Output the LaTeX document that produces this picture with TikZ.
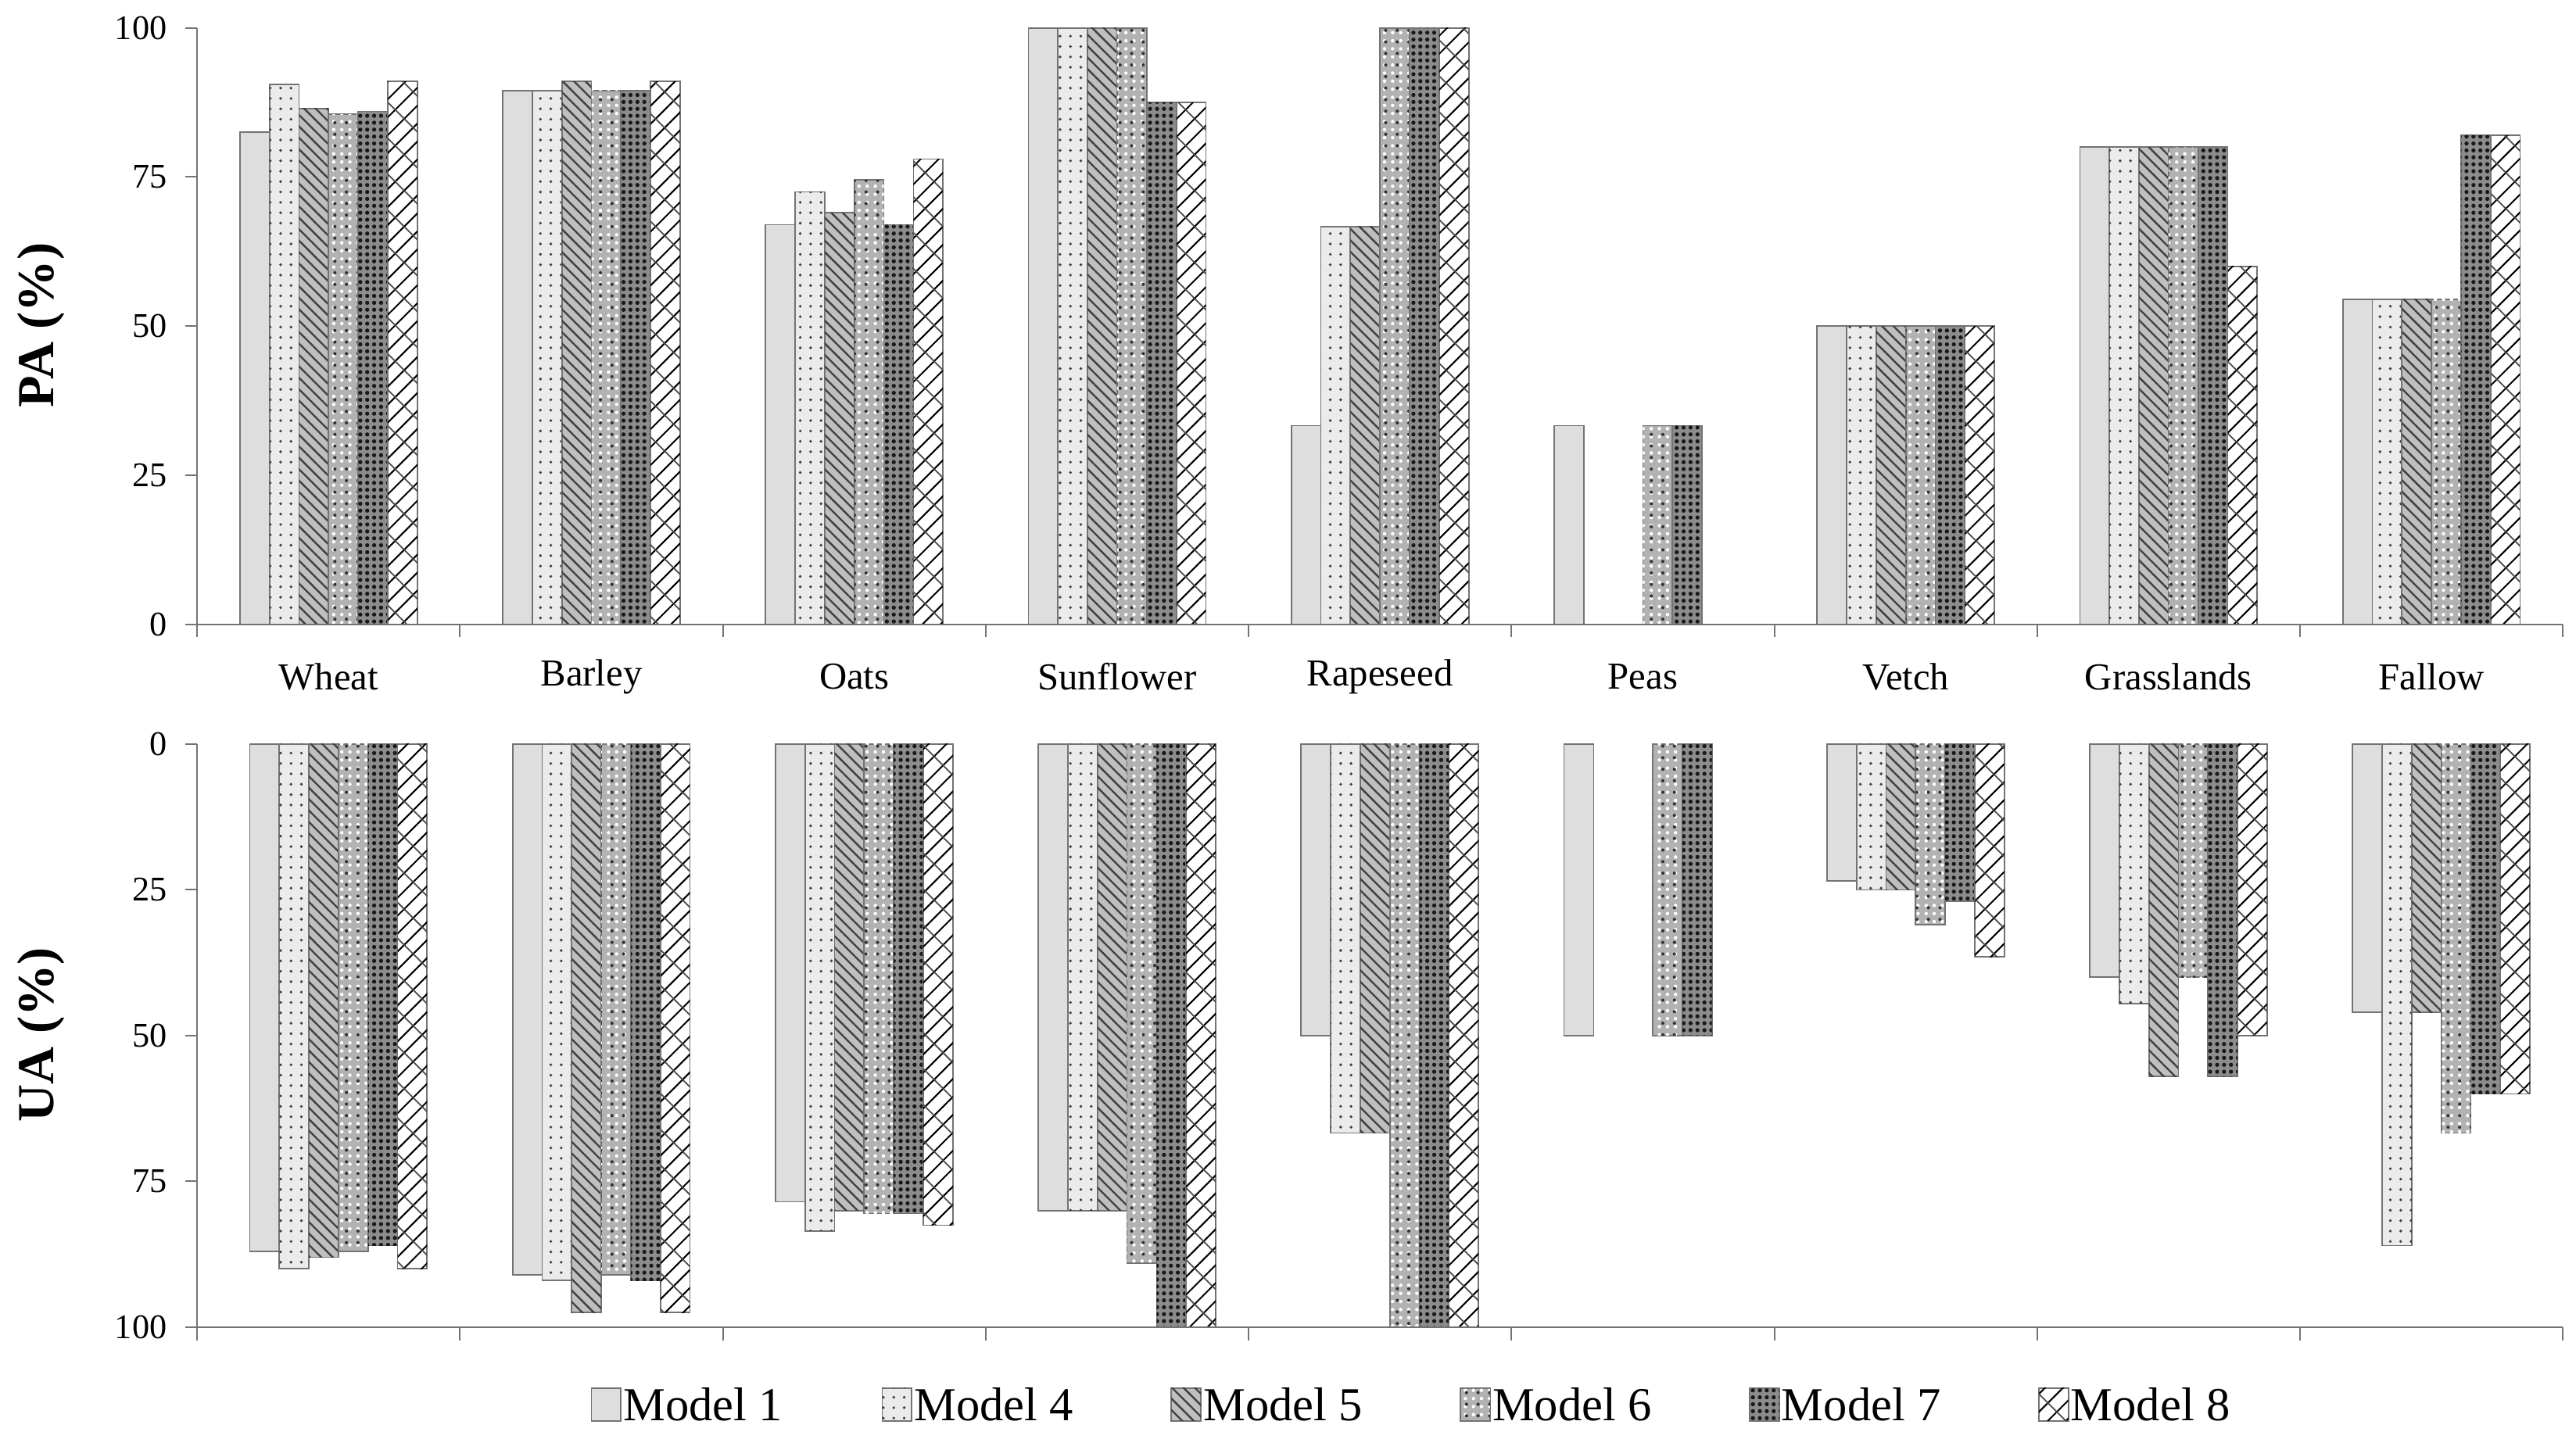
\documentclass[tikz,border=0pt]{standalone}
\usepackage{fontspec}
\setmainfont{Liberation Serif}
\usetikzlibrary{patterns.meta}
\tikzset{
 barbase/.style={draw=black!55,line width=1.2pt},
 b0/.style={barbase,fill=black!13},
 b1/.style={barbase,fill=black!8,postaction={pattern={Dots[distance=9pt,radius=1.3pt]},pattern color=black!75}},
 b2/.style={barbase,fill=black!25,postaction={pattern={Lines[angle=-45,distance=7pt,line width=1.6pt]},pattern color=black!75}},
 b3/.style={barbase,fill=black!30,postaction={pattern={Dots[distance=7pt,radius=1.5pt,xshift=2pt]},pattern color=white},postaction={pattern={Dots[distance=10pt,radius=1.4pt]},pattern color=black!80}},
 b4/.style={barbase,fill=black!45,postaction={pattern={Dots[distance=6pt,radius=1.8pt]},pattern color=black!90}},
 b5/.style={barbase,fill=white,postaction={pattern={Lines[angle=45,distance=11pt,line width=1.4pt]},pattern color=black},postaction={pattern={Lines[angle=-45,distance=22pt,line width=1.2pt]},pattern color=black!70}},
 axis/.style={draw=black!55,line width=1.4pt},
 tick/.style={font=\fontsize{30pt}{32pt}\selectfont,anchor=east},
 cat/.style={font=\fontsize{33pt}{36pt}\selectfont},
 leg/.style={font=\fontsize{41pt}{44pt}\selectfont,anchor=west}
}
\begin{document}
\begin{tikzpicture}[x=0.05cm,y=-0.05cm]
\useasboundingbox (0,0) rectangle (1568,876);
% top chart
\foreach \vals [count=\c from 0] in {{82.5,90.5,86.5,85.5,86,91},{89.5,89.5,91,89.5,89.5,91},{67,72.5,69,74.5,67,78},{100,100,100,100,87.5,87.5},{33.3,66.7,66.7,100,100,100},{33.3,0,0,33.3,33.3,0},{50,50,50,50,50,50},{80,80,80,80,80,60},{54.5,54.5,54.5,54.5,82,82}}{
 \foreach \v [count=\k from 0] in \vals {
  \ifdim \v pt>0pt
   \draw[b\k] ({146+160*\c+18*\k},380) rectangle ({164+160*\c+18*\k},{380-3.63*\v});
  \fi
 }
}
% bottom chart
\foreach \vals [count=\c from 0] in {{87,90,88,87,86,90},{91,92,97.5,91,92,97.5},{78.5,83.5,80,80.5,80.5,82.5},{80,80,80,89,100,100},{50,66.7,66.7,100,100,100},{50,0,0,50,50,0},{23.5,25,25,31,27,36.5},{40,44.5,57,40,57,50},{46,86,46,66.7,60,60}}{
 \foreach \v [count=\k from 0] in \vals {
  \ifdim \v pt>0pt
   \draw[b\k] ({152+160*\c+18*\k},453) rectangle ({170+160*\c+18*\k},{453+3.55*\v});
  \fi
 }
}
% axes
\draw[axis] (120,17) -- (120,380) -- (1560,380);
\draw[axis] (120,453) -- (120,808) -- (1560,808);
\foreach \i in {0,...,9}{
 \draw[axis] ({120+160*\i},380) -- ({120+160*\i},388);
 \draw[axis] ({120+160*\i},808) -- ({120+160*\i},816);
}
\foreach \t in {0,25,50,75,100}{
 \draw[axis] (113,{380-3.63*\t}) -- (120,{380-3.63*\t});
 \node[tick] (tp\t) at (104,{380-3.63*\t}) {\t};
 \draw[axis] (113,{453+3.55*\t}) -- (120,{453+3.55*\t});
 \node[tick] (bt\t) at (104,{453+3.55*\t}) {\t};
}
\foreach \n [count=\c from 0] in {Wheat,Barley,Oats,Sunflower,Rapeseed,Peas,Vetch,Grasslands,Fallow}{
 \node[cat] (c\c) at ({200+160*\c},412) {\n};
}
\node[rotate=90,font=\fontsize{45pt}{48pt}\selectfont\bfseries] (pa) at (25,198) {PA (\%)};
\node[rotate=90,font=\fontsize{45pt}{48pt}\selectfont\bfseries] (ua) at (25,630) {UA (\%)};
% legend
\foreach \x/\m [count=\k from 0] in {360/1,537/4,713/5,889/6,1065/7,1241/8}{
 \draw[b\k] (\x,845) rectangle (\x+18,865);
 \node[leg] (l\m) at (\x+17,855) {Model \m};
}
\end{tikzpicture}
\end{document}
